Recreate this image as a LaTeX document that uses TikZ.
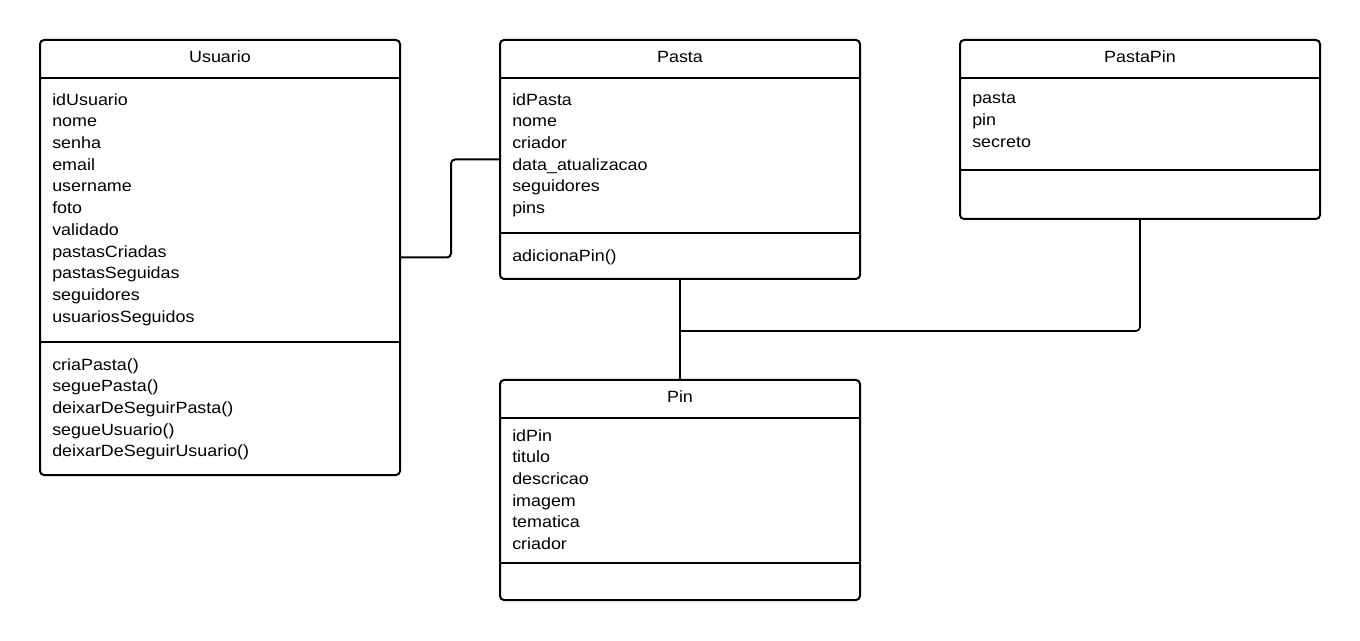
\documentclass[tikz,border=0pt]{standalone}
\usepackage{fontspec}
\setmainfont[FakeStretch=1.1]{Liberation Sans}
\begin{document}
\begin{tikzpicture}[x=0.75pt,y=-0.75pt,
  classbox/.style={draw=black,line width=1.5pt,rounded corners=3pt,fill=white,inner sep=0pt},
  sep/.style={draw=black,line width=1.5pt},
  title/.style={inner sep=0pt,font=\fontsize{12.2}{14}\selectfont},
  members/.style={inner sep=0pt,anchor=north west,align=left,font=\fontsize{12.2}{16.3}\selectfont},
  conn/.style={draw=black,line width=1.5pt,rounded corners=3pt}]
\useasboundingbox (0,0) rectangle (1360,641);
% classes
\node[classbox,minimum width=270pt,minimum height=326.25pt] (usuario) at (220,257.5) {};
\node[classbox,minimum width=270pt,minimum height=179.25pt] (pasta) at (680,159.5) {};
\node[classbox,minimum width=270pt,minimum height=134.25pt] (pastapin) at (1140,129.5) {};
\node[classbox,minimum width=270pt,minimum height=165pt] (pin) at (680,490) {};
% separators
\draw[sep] (usuario.west |- 0,78) -- (usuario.east |- 0,78);
\draw[sep] (usuario.west |- 0,342) -- (usuario.east |- 0,342);
\draw[sep] (pasta.west |- 0,78) -- (pasta.east |- 0,78);
\draw[sep] (pasta.west |- 0,233) -- (pasta.east |- 0,233);
\draw[sep] (pastapin.west |- 0,78) -- (pastapin.east |- 0,78);
\draw[sep] (pastapin.west |- 0,170) -- (pastapin.east |- 0,170);
\draw[sep] (pin.west |- 0,418) -- (pin.east |- 0,418);
\draw[sep] (pin.west |- 0,563) -- (pin.east |- 0,563);
% titles
\node[title] (tUsuario) at (220,57) {Usuario};
\node[title] (tPasta) at (680,57) {Pasta};
\node[title] (tPastaPin) at (1140,57) {PastaPin};
\node[title] (tPin) at (680,397) {Pin};
% members
\node[members] (aUsuario) at (52,93) {idUsuario\\nome\\senha\\email\\username\\foto\\validado\\pastasCriadas\\pastasSeguidas\\seguidores\\usuariosSeguidos};
\node[members] (mUsuario) at (52,358) {criaPasta()\\seguePasta()\\deixarDeSeguirPasta()\\segueUsuario()\\deixarDeSeguirUsuario()};
\node[members] (aPasta) at (512,93) {idPasta\\nome\\criador\\data\_atualizacao\\seguidores\\pins};
\node[members] (mPasta) at (512,249) {adicionaPin()};
\node[members] (aPastaPin) at (972,93) {pasta\\pin\\secreto};
\node[members] (aPin) at (512,429) {idPin\\titulo\\descricao\\imagem\\tematica\\criador};
% connectors
\coordinate (junc) at (680,331);
\draw[conn] (usuario.east) -- ++(50,0) |- (pasta.west);
\draw[conn] (pasta.south) -- (pin.north);
\draw[conn,line width=1.2pt] (pastapin.south) |- (junc);
\end{tikzpicture}
\end{document}
